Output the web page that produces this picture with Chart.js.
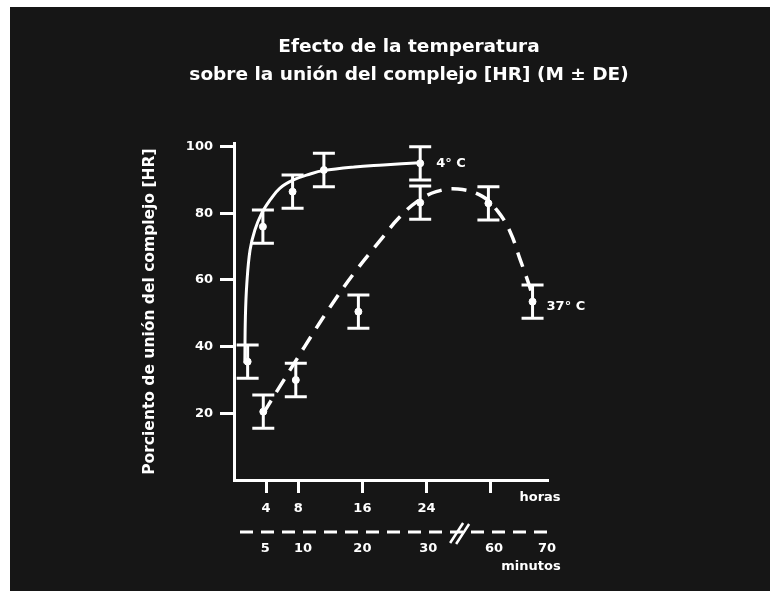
<!DOCTYPE html>
<html lang="es">
<head>
<meta charset="utf-8">
<title>Efecto de la temperatura</title>
<script src="https://cdn.jsdelivr.net/npm/chart.js@4.4.0/dist/chart.umd.min.js"></script>
<style>
    html, body { margin: 0; padding: 0; background: #fff; }
    #panel { position: absolute; left: 10px; top: 7px; width: 760px; height: 584px; background: #161616; }
</style>
</head>
<body>
<div id="panel"><canvas id="temp-chart" width="760" height="584"></canvas></div>
<script>
// 4 °C: horas, media y desviación estándar
const horas4 = [1.7, 3.6, 7.3, 11.2, 23.2];
const media4 = [35.5, 76, 86.5, 93, 95];
const de4 = [5, 5, 5, 5, 5];

// 37 °C
const horas37 = [3.65, 7.7, 15.5, 23.2, 31.7, 37.2];
const media37 = [20.5, 30, 50.5, 83.2, 83, 53.5];
const de37 = [5, 5, 5, 5, 5, 5];

// curvas ajustadas
const curvaX4 = [1.35, 1.42, 1.6, 2.0, 2.6, 3.45, 4.5, 5.7, 7.4, 9.5, 11.1, 15, 18.6, 23.2];
const curvaY4 = [35, 49, 59, 69, 75, 80, 84, 87.5, 90, 91.8, 92.8, 93.9, 94.5, 95.2];
const curvaX37 = [3.65, 5.7, 8.8, 12, 15.1, 18.6, 20.5, 22.8, 25.2, 27.9, 31, 32.9, 34.4, 35.6, 36.9, 37.2];
const curvaY37 = [20, 28, 40, 52, 62.5, 73, 78.5, 83.5, 86.5, 87.3, 85, 80.5, 74.5, 66.5, 57.5, 54];

// ejes
const yTicks = [20, 40, 60, 80, 100];
const horasTicks = [4, 8, 16, 24, 32];
const horasLabels = ['4', '8', '16', '24', ''];
const minutosPos = [3.9, 8.6, 16, 24.2, 32.4, 39];
const minutosLabels = ['5', '10', '20', '30', '60', '70'];
const seriesLabels = ['4° C', '37° C'];

const WHITE = '#ffffff';
const FONT = 'DejaVu Sans';
Chart.defaults.color = WHITE;
Chart.defaults.font.family = FONT;

const toPoints = (xs, ys) => xs.map((x, i) => ({ x: x, y: ys[i] }));

// error bars (M ± DE) drawn from the scales
const errorBars = {
    id: 'errorBars',
    beforeDatasetsDraw(chart) {
        const { ctx, scales: { x, y } } = chart;
        ctx.save();
        ctx.strokeStyle = WHITE;
        ctx.lineWidth = 3;
        chart.data.datasets.forEach(ds => {
            if (!ds.errores) return;
            ds.data.forEach((p, i) => {
                const px = x.getPixelForValue(p.x);
                const top = y.getPixelForValue(p.y + ds.errores[i]);
                const bot = y.getPixelForValue(p.y - ds.errores[i]);
                ctx.beginPath();
                ctx.moveTo(px, top);
                ctx.lineTo(px, bot);
                ctx.moveTo(px - 11, top);
                ctx.lineTo(px + 11, top);
                ctx.moveTo(px - 11, bot);
                ctx.lineTo(px + 11, bot);
                ctx.stroke();
            });
        });
        ctx.restore();
    }
};

// series names, axis units, dashed minutes axis and its break
const rotulos = {
    id: 'rotulos',
    afterDatasetsDraw(chart) {
        const { ctx, scales: { x, y, xMin } } = chart;
        ctx.save();
        ctx.fillStyle = WHITE;
        ctx.textBaseline = 'middle';
        ctx.font = 'bold 13px "' + FONT + '"';
        const last4 = horas4.length - 1;
        const last37 = horas37.length - 1;
        ctx.textAlign = 'left';
        ctx.fillText(seriesLabels[0], x.getPixelForValue(horas4[last4]) + 16, y.getPixelForValue(media4[last4]));
        ctx.fillText(seriesLabels[1], x.getPixelForValue(horas37[last37]) + 14, y.getPixelForValue(media37[last37]) + 5);

        ctx.textAlign = 'center';
        ctx.fillText('horas', x.right - 7, x.top + 18);
        ctx.fillText('minutos', x.right - 16, xMin.top + 35);

        // dashed minutes axis
        ctx.strokeStyle = WHITE;
        ctx.lineWidth = 3;
        ctx.setLineDash([13, 8]);
        ctx.beginPath();
        ctx.moveTo(xMin.left + 6, xMin.top);
        ctx.lineTo(xMin.right, xMin.top);
        ctx.stroke();
        ctx.setLineDash([]);

        // break mark
        const bx = xMin.getPixelForValue(27.8);
        const by = xMin.top;
        ctx.lineWidth = 2.5;
        ctx.beginPath();
        ctx.moveTo(bx - 7, by + 11);
        ctx.lineTo(bx + 6, by - 9);
        ctx.moveTo(bx - 1, by + 12);
        ctx.lineTo(bx + 12, by - 8);
        ctx.stroke();
        ctx.restore();
    }
};

const ctx = document.getElementById('temp-chart').getContext('2d');
const tempChart = new Chart(ctx, {
    type: 'scatter',
    data: {
        datasets: [{
            label: 'Ajuste 4° C',
            data: toPoints(curvaX4, curvaY4),
            showLine: true,
            borderColor: WHITE,
            borderWidth: 3,
            pointRadius: 0,
            tension: 0.4
        }, {
            label: 'Ajuste 37° C',
            data: toPoints(curvaX37, curvaY37),
            showLine: true,
            borderColor: WHITE,
            borderWidth: 3.5,
            borderDash: [15, 10],
            pointRadius: 0,
            tension: 0.4
        }, {
            label: '4° C',
            data: toPoints(horas4, media4),
            errores: de4,
            pointRadius: 3.5,
            pointBackgroundColor: WHITE,
            pointBorderColor: WHITE
        }, {
            label: '37° C',
            data: toPoints(horas37, media37),
            errores: de37,
            pointRadius: 3.5,
            pointBackgroundColor: WHITE,
            pointBorderColor: WHITE
        }]
    },
    options: {
        responsive: false,
        animation: false,
        layout: {
            padding: { top: 0, left: 38, right: 0, bottom: 19 }
        },
        plugins: {
            legend: { display: false },
            tooltip: { enabled: false },
            title: {
                display: true,
                text: ['Efecto de la temperatura', 'sobre la unión del complejo [HR] (M ± DE)'],
                color: WHITE,
                font: { family: FONT, size: 18.5, weight: 'bold', lineHeight: 1.5135 },
                padding: { top: 26, bottom: 54.3 }
            }
        },
        scales: {
            x: {
                type: 'linear',
                position: 'bottom',
                min: 0,
                max: 39,
                weight: 0,
                afterFit: scale => { scale.height = 52; },
                afterBuildTicks: scale => { scale.ticks = horasTicks.map(v => ({ value: v })); },
                border: { display: true, color: WHITE, width: 3 },
                grid: { display: true, drawOnChartArea: false, drawTicks: true, tickLength: 13, color: WHITE, lineWidth: 3 },
                ticks: {
                    color: WHITE,
                    padding: 8,
                    maxRotation: 0,
                    autoSkip: false,
                    font: { size: 13, weight: 'bold' },
                    callback: (v, i) => horasLabels[i]
                }
            },
            xMin: {
                type: 'linear',
                position: 'bottom',
                min: 0,
                max: 39,
                weight: 1,
                afterFit: scale => { scale.height = 40; },
                afterBuildTicks: scale => { scale.ticks = minutosPos.map(v => ({ value: v })); },
                border: { display: false },
                grid: { display: false, drawTicks: false },
                ticks: {
                    color: WHITE,
                    padding: 9,
                    maxRotation: 0,
                    autoSkip: false,
                    font: { size: 13, weight: 'bold' },
                    callback: (v, i) => minutosLabels[i]
                }
            },
            y: {
                type: 'linear',
                position: 'left',
                min: 0,
                max: 101,
                afterFit: scale => { scale.width = 186; },
                afterBuildTicks: scale => { scale.ticks = yTicks.map(v => ({ value: v })); },
                border: { display: true, color: WHITE, width: 3 },
                grid: { display: true, drawOnChartArea: false, drawTicks: true, tickLength: 14, color: WHITE, lineWidth: 3 },
                ticks: {
                    color: WHITE,
                    padding: 7,
                    font: { size: 13, weight: 'bold' }
                },
                title: {
                    display: true,
                    text: 'Porciento de unión del complejo [HR]',
                    color: WHITE,
                    font: { size: 15.5, weight: 'bold' },
                    padding: { top: 92.7, bottom: 0 }
                }
            },
            // empty margin on the right so the title stays centred on the panel
            margen: {
                type: 'linear',
                position: 'right',
                afterFit: scale => { scale.width = 223; },
                border: { display: false },
                grid: { display: false },
                ticks: { display: false }
            }
        }
    },
    plugins: [errorBars, rotulos]
});
</script>
</body>
</html>
